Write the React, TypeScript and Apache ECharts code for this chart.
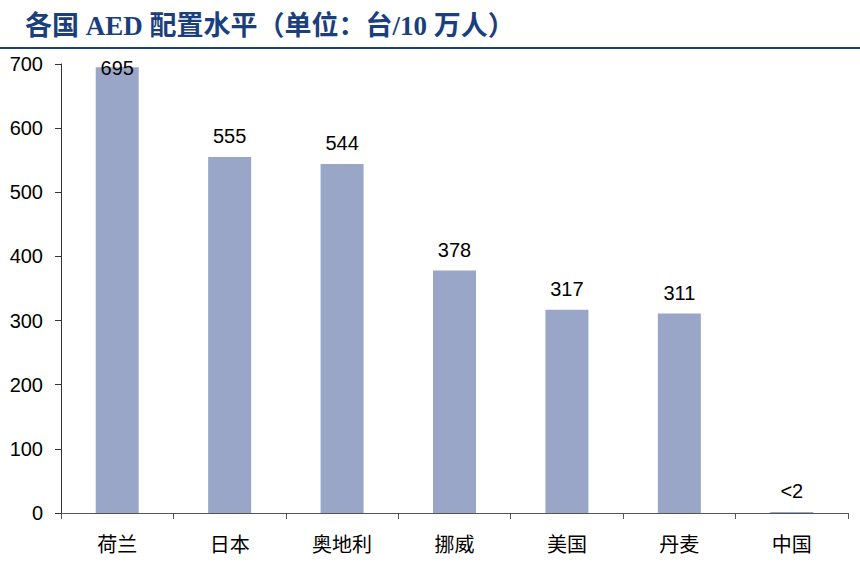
import React, { useEffect, useRef } from "react";
import * as echarts from "echarts";

const titleText = "各国 AED 配置水平（单位：台/10 万人）";
const categories = ["荷兰", "日本", "奥地利", "挪威", "美国", "丹麦", "中国"];
const values = [695, 555, 544, 378, 317, 311, 1.5];
const valueLabels = ["695", "555", "544", "378", "317", "311", "<2"];
const yTicks = { min: 0, max: 700, interval: 100 };

export default function App() {
  const ref = useRef<HTMLDivElement>(null);
  useEffect(() => {
    document.body.style.margin = "0";
    const chart = echarts.init(ref.current!, null, { renderer: "svg" });
    const latin = "'Liberation Sans', Arial, 'Noto Sans CJK SC', sans-serif";
    chart.setOption({
      animation: false,
      backgroundColor: "#ffffff",
      title: {
        text: titleText,
        left: 20,
        top: 7,
        textStyle: {
          fontFamily: "'Liberation Serif', 'Noto Sans CJK SC', serif",
          fontWeight: "bold",
          fontSize: 27,
          color: "#1B3F7E",
        },
      },
      graphic: [
        {
          type: "line",
          shape: { x1: 0, y1: 48, x2: 860, y2: 48 },
          style: { stroke: "#1B3F7E", lineWidth: 2 },
        },
      ],
      grid: { left: 61, right: 12, top: 64, bottom: 50, containLabel: false },
      xAxis: {
        type: "category",
        data: categories,
        axisLine: { lineStyle: { color: "#555555", width: 1 } },
        axisTick: { show: true, alignWithLabel: false, length: 6, lineStyle: { color: "#555555" } },
        axisLabel: {
          color: "#000000",
          fontSize: 20,
          fontFamily: latin,
          margin: 22,
        },
      },
      yAxis: {
        type: "value",
        min: yTicks.min,
        max: yTicks.max,
        interval: yTicks.interval,
        splitLine: { show: false },
        axisLine: { show: true, lineStyle: { color: "#333333", width: 1 } },
        axisTick: { show: true, length: 6, lineStyle: { color: "#333333" } },
        axisLabel: {
          color: "#000000",
          fontSize: 20,
          fontFamily: latin,
          margin: 18,
        },
      },
      series: [
        {
          type: "bar",
          barWidth: 43,
          data: values.map((v, i) => ({
            value: v,
            label: i === 0 ? { offset: [0, 22] } : undefined,
          })),
          itemStyle: { color: "#9AA6C8" },
          label: {
            show: true,
            position: "top",
            distance: 11,
            color: "#000000",
            fontSize: 20,
            fontFamily: latin,
            formatter: (p: any) => valueLabels[p.dataIndex],
          },
        },
      ],
    });
    return () => chart.dispose();
  }, []);
  return <div ref={ref} style={{ width: 860, height: 563 }} />;
}
